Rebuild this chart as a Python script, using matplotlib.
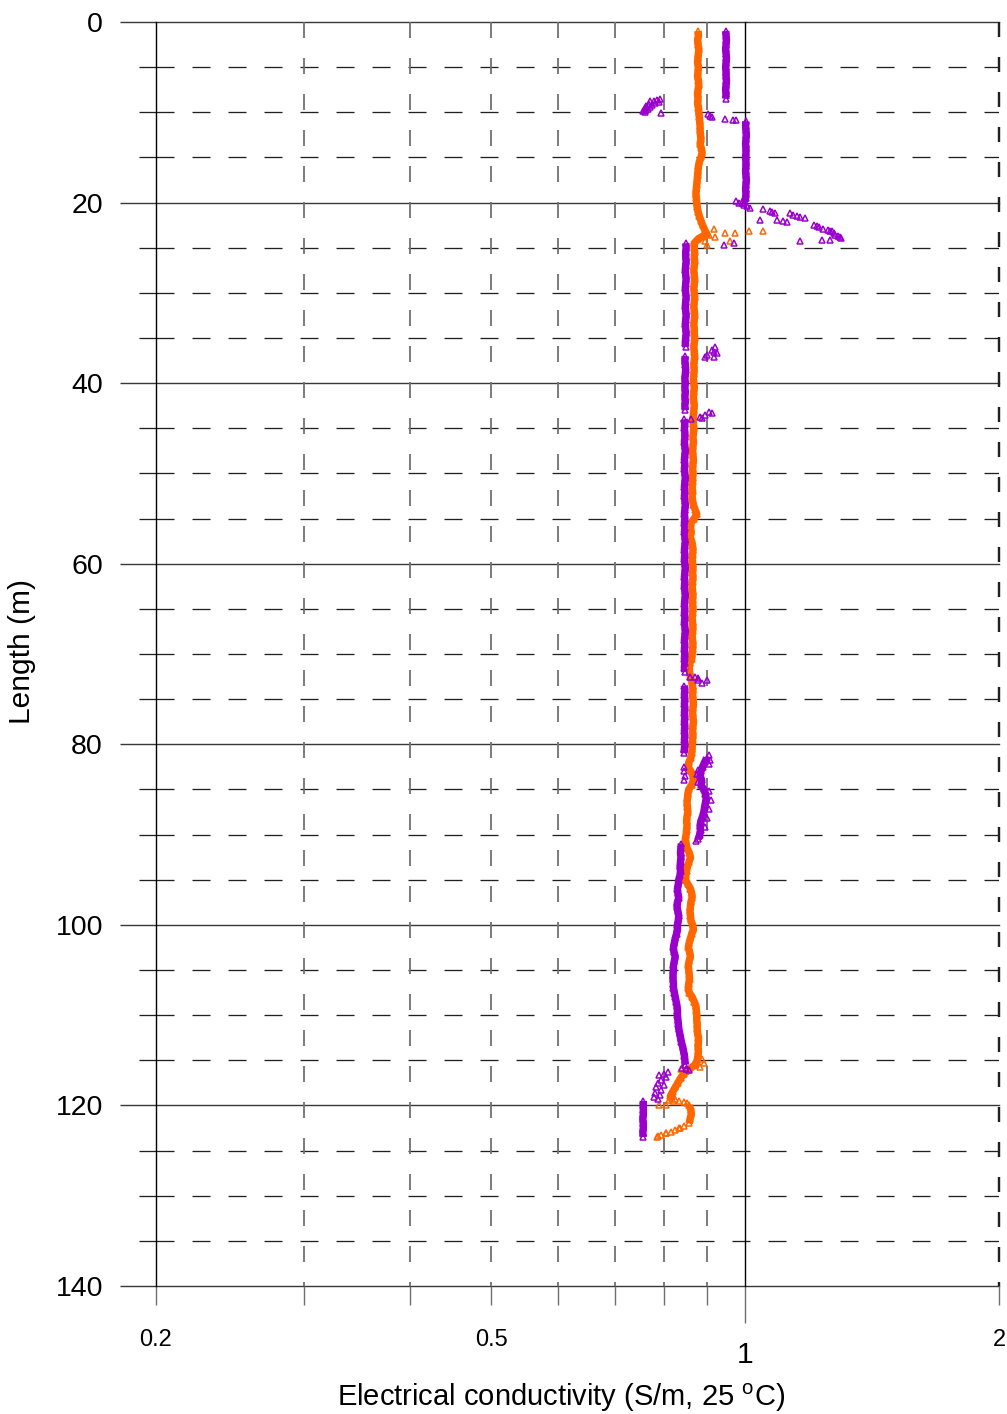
import numpy as np
import matplotlib
matplotlib.use("Agg")
import matplotlib.pyplot as plt
from matplotlib.ticker import FixedLocator, MultipleLocator, NullFormatter

plt.rcParams["font.family"] = ["Liberation Sans", "DejaVu Sans"]
plt.rcParams["mathtext.fontset"] = "custom"
plt.rcParams["mathtext.rm"] = "Liberation Sans"
plt.rcParams["lines.scale_dashes"] = False

nan = float("nan")

# logger reads every 0.5 m along the hole
depth_m = np.arange(1.0, 123.75, 0.5)

# run 2 (orange), S/m at 25 C
orange_ec = [
    0.879, 0.880, 0.878, 0.879, 0.881, 0.880, 0.879, 0.878, 0.880, 0.879,  # 1.0-5.5
    0.878, 0.880, 0.881, 0.879, 0.878, 0.879, 0.878, 0.880, 0.881, 0.882,  # 6.0-10.5
    0.883, 0.884, 0.884, 0.885, 0.886, 0.884, 0.887, 0.889, 0.886, 0.882,  # 11.0-15.5
    0.880, 0.879, 0.878, 0.877, 0.876, 0.875, 0.874, 0.875, 0.876, 0.877,  # 16.0-20.5
    0.879, 0.882, 0.886, 0.890, 0.895, 0.900, 0.880, 0.870, 0.870, 0.871,  # 21.0-25.5
    0.870, 0.871, 0.870, 0.869, 0.870, 0.871, 0.870, 0.869, 0.870, 0.871,  # 26.0-30.5
    0.870, 0.869, 0.870, 0.871, 0.870, 0.869, 0.870, 0.870, 0.871, 0.870,  # 31.0-35.5
    0.869, 0.870, 0.871, 0.870, 0.869, 0.870, 0.869, 0.868, 0.869, 0.870,  # 36.0-40.5
    0.869, 0.868, 0.869, 0.870, 0.869, 0.868, 0.867, 0.868, 0.869, 0.868,  # 41.0-45.5
    0.867, 0.868, 0.867, 0.866, 0.867, 0.868, 0.867, 0.866, 0.867, 0.866,  # 46.0-50.5
    0.866, 0.865, 0.866, 0.865, 0.866, 0.868, 0.872, 0.876, 0.870, 0.862,  # 51.0-55.5
    0.861, 0.863, 0.860, 0.864, 0.866, 0.867, 0.866, 0.865, 0.866, 0.867,  # 56.0-60.5
    0.866, 0.867, 0.866, 0.865, 0.866, 0.867, 0.866, 0.866, 0.867, 0.866,  # 61.0-65.5
    0.865, 0.866, 0.867, 0.866, 0.865, 0.866, 0.867, 0.866, 0.865, 0.864,  # 66.0-70.5
    0.860, 0.858, 0.859, 0.861, 0.864, 0.866, 0.867, 0.866, 0.867, 0.868,  # 71.0-75.5
    0.867, 0.866, 0.867, 0.868, 0.867, 0.866, 0.867, 0.866, 0.865, 0.865,  # 76.0-80.5
    0.864, 0.862, 0.857, 0.856, 0.862, 0.867, 0.868, 0.864, 0.857, 0.855,  # 81.0-85.5
    0.854, 0.853, 0.854, 0.855, 0.853, 0.852, 0.853, 0.852, 0.851, 0.849,  # 86.0-90.5
    0.851, 0.853, 0.858, 0.861, 0.858, 0.854, 0.852, 0.850, 0.849, 0.855,  # 91.0-95.5
    0.861, 0.864, 0.865, 0.862, 0.861, 0.860, 0.861, 0.862, 0.866, 0.868,  # 96.0-100.5
    0.864, 0.861, 0.858, 0.856, 0.859, 0.861, 0.858, 0.856, 0.857, 0.858,  # 101.0-105.5
    0.859, 0.857, 0.856, 0.858, 0.865, 0.870, 0.874, 0.875, 0.876, 0.876,  # 106.0-110.5
    0.877, 0.877, 0.878, 0.880, 0.880, 0.879, 0.880, 0.879, 0.877, 0.872,  # 111.0-115.5
    0.858, 0.845, 0.838, 0.832, 0.826, 0.820, 0.815, 0.820, 0.858, 0.862,  # 116.0-120.5
    0.863, 0.860, 0.858, 0.835, 0.805, 0.785,                              # 121.0-123.5
]

# run 1 (purple); nan where the probe reading is off the main trace
purple_ec = [
    0.948, 0.949, 0.950, 0.949, 0.948, 0.949, 0.950, 0.949, 0.948, 0.949,  # 1.0-5.5
    0.949, 0.950, 0.949, 0.948, 0.949, 0.948, nan, nan, nan, nan,          # 6.0-10.5
    1.002, 1.001, 1.002, 1.003, 1.002, 1.001, 1.002, 1.002, 1.001, 1.002,  # 11.0-15.5
    1.002, 1.001, 1.002, 1.003, 1.002, 1.001, 1.002, 1.001, 0.996, nan,    # 16.0-20.5
    nan, nan, nan, nan, nan, nan, nan, 0.850, 0.851, 0.850,                # 21.0-25.5
    0.850, 0.851, 0.850, 0.849, 0.850, 0.851, 0.850, 0.849, 0.850, 0.851,  # 26.0-30.5
    0.850, 0.849, 0.850, 0.851, 0.850, 0.849, 0.850, 0.851, 0.850, 0.849,  # 31.0-35.5
    0.850, nan, 0.849, 0.848, 0.849, 0.850, 0.849, 0.848, 0.849, 0.848,    # 36.0-40.5
    0.849, 0.848, 0.849, 0.848, 0.849, nan, 0.846, 0.848, 0.847, 0.848,    # 41.0-45.5
    0.848, 0.847, 0.848, 0.849, 0.848, 0.847, 0.848, 0.847, 0.848, 0.849,  # 46.0-50.5
    0.848, 0.847, 0.848, 0.847, 0.848, 0.849, 0.848, 0.847, 0.848, 0.847,  # 51.0-55.5
    0.848, 0.847, 0.848, 0.849, 0.848, 0.847, 0.848, 0.847, 0.848, 0.849,  # 56.0-60.5
    0.848, 0.847, 0.848, 0.847, 0.848, 0.849, 0.848, 0.847, 0.848, 0.847,  # 61.0-65.5
    0.848, 0.847, 0.848, 0.849, 0.848, 0.847, 0.848, 0.847, 0.848, 0.847,  # 66.0-70.5
    0.848, 0.847, 0.848, nan, nan, 0.847, 0.848, 0.847, 0.848, 0.847,      # 71.0-75.5
    0.848, 0.847, 0.848, 0.847, 0.848, 0.847, 0.848, 0.847, 0.848, 0.847,  # 76.0-80.5
    0.846, 0.900, 0.895, 0.890, 0.886, 0.884, 0.888, 0.886, 0.893, 0.897,  # 81.0-85.5
    0.899, 0.897, 0.895, 0.893, 0.890, 0.886, 0.884, 0.885, 0.883, 0.880,  # 86.0-90.5
    0.840, 0.839, 0.838, 0.839, 0.838, 0.837, 0.838, 0.837, 0.834, 0.833,  # 91.0-95.5
    0.831, 0.832, 0.834, 0.831, 0.830, 0.832, 0.834, 0.833, 0.831, 0.831,  # 96.0-100.5
    0.829, 0.826, 0.824, 0.822, 0.823, 0.826, 0.824, 0.822, 0.822, 0.821,  # 101.0-105.5
    0.821, 0.822, 0.822, 0.824, 0.826, 0.828, 0.830, 0.831, 0.831, 0.832,  # 106.0-110.5
    0.833, 0.834, 0.836, 0.838, 0.840, 0.843, 0.845, 0.847, 0.848, 0.849,  # 111.0-115.5
    nan, nan, nan, nan, nan, nan, nan, 0.757, 0.757, 0.757,                # 116.0-120.5
    0.757, 0.756, 0.757, 0.757, 0.756, 0.757,                              # 121.0-123.5
]

# scattered readings (depth m, S/m) that sit away from the traces
orange_loose = [
    (22.9, 0.917), (23.1, 1.051), (23.2, 1.009), (23.4, 0.947), (23.4, 0.973),
    (23.6, 0.905), (23.8, 0.921), (24.3, 0.960), (24.3, 0.897), (24.7, 0.901),
    (114.9, 0.888), (115.3, 0.893), (115.7, 0.884), (116.0, 0.838), (116.2, 0.850),
    (119.3, 0.826), (119.4, 0.812), (119.5, 0.835), (119.6, 0.845), (119.7, 0.852),
    (119.9, 0.790), (119.9, 0.805),
    (122.3, 0.845), (122.5, 0.836), (122.7, 0.826), (122.9, 0.816), (123.1, 0.805),
    (123.3, 0.795), (123.4, 0.788),
]

purple_loose = [
    (8.5, 0.792), (8.6, 0.785), (8.7, 0.779), (8.8, 0.772), (8.9, 0.790), (9.0, 0.781),
    (9.1, 0.768), (9.2, 0.775), (9.3, 0.763), (9.4, 0.770), (9.5, 0.760), (9.6, 0.766),
    (9.7, 0.758), (9.8, 0.762), (9.9, 0.757), (10.0, 0.760), (10.1, 0.795),
    (10.2, 0.903), (10.4, 0.908), (10.5, 0.912), (10.7, 0.947), (10.8, 0.968), (10.9, 0.976),
    (19.8, 0.975), (20.0, 0.982), (20.1, 0.990), (20.3, 0.996), (20.4, 1.005),
    (20.6, 1.014), (20.7, 1.051), (20.9, 1.070), (21.0, 1.075), (21.1, 1.085), (21.2, 1.131),
    (21.4, 1.140), (21.5, 1.152), (21.6, 1.162), (21.7, 1.178), (21.9, 1.042), (21.9, 1.090),
    (22.0, 1.110), (22.1, 1.120), (22.5, 1.205), (22.6, 1.215), (22.7, 1.222), (22.9, 1.238),
    (23.0, 1.255), (23.1, 1.260), (23.2, 1.267), (23.4, 1.275), (23.6, 1.278), (23.7, 1.290),
    (23.8, 1.296), (23.9, 1.300), (24.1, 1.261), (24.2, 1.233), (24.3, 1.162), (24.5, 0.969),
    (24.7, 0.943),
    (36.0, 0.921), (36.3, 0.913), (36.5, 0.918), (36.7, 0.926), (36.9, 0.901), (37.1, 0.897),
    (37.1, 0.917),
    (43.2, 0.905), (43.3, 0.913), (43.5, 0.897), (43.7, 0.884), (43.9, 0.889), (44.0, 0.862),
    (72.5, 0.872), (72.6, 0.860), (72.7, 0.878), (72.9, 0.880), (72.9, 0.901), (73.2, 0.889),
    (81.2, 0.905), (81.7, 0.908), (82.2, 0.905), (82.5, 0.845), (82.8, 0.878), (83.0, 0.847),
    (83.3, 0.876), (83.5, 0.848), (84.0, 0.846), (84.2, 0.878), (85.2, 0.905), (86.2, 0.910),
    (87.2, 0.905), (88.2, 0.900), (89.2, 0.895), (90.2, 0.878), (90.7, 0.875),
    (115.9, 0.842), (116.0, 0.850), (116.1, 0.858), (116.3, 0.810), (116.5, 0.800),
    (116.6, 0.790), (116.9, 0.805), (117.2, 0.795), (117.5, 0.787), (117.7, 0.800),
    (118.0, 0.783), (118.3, 0.795), (118.6, 0.782), (118.8, 0.792), (119.1, 0.780),
    (119.3, 0.788),
]

ORANGE = "#FF6600"
PURPLE = "#9900CC"
PX = 72 / 100  # points per pixel at 100 dpi


def with_breaks(depth, ec, max_ratio=1.025):
    # split the trace wherever consecutive readings jump
    depth = np.asarray(depth, float)
    ec = np.asarray(ec, float)
    ratio = ec[1:] / ec[:-1]
    jump = np.where((ratio > max_ratio) | (ratio < 1 / max_ratio))[0] + 1
    return np.insert(depth, jump, np.nan), np.insert(ec, jump, np.nan)


def draw_run(ax, ec, loose, color):
    d, e = with_breaks(depth_m, ec)
    ax.plot(e, d, color=color, lw=7.5 * PX, solid_capstyle="butt", zorder=3)
    marker = dict(ls="none", marker="^", ms=6.5 * PX, mfc="none", mec=color,
                  mew=1.5 * PX, zorder=4)
    ax.plot(ec, depth_m, **marker)
    ld, le = zip(*loose)
    ax.plot(le, ld, **marker)


fig = plt.figure(figsize=(10.07, 14.14), dpi=100)
ax = fig.add_axes([156 / 1007, 1 - 1286 / 1414, (999 - 156) / 1007, 1264 / 1414])
ax.set_xscale("log")
ax.set_xlim(0.2, 2)
ax.set_ylim(140, 0)
for s in ax.spines.values():
    s.set_visible(False)

# horizontal grid
for y in range(0, 141, 20):
    ax.axhline(y, color="#383838", lw=1.4 * PX, clip_on=False, zorder=1)
for y in range(5, 140, 5):
    if y % 20:
        ax.axhline(y, color="#202020", lw=1.3 * PX, dashes=(18 * PX, 18 * PX), zorder=1)

# vertical grid
for x in [0.2, 1]:
    ax.plot([x, x], [0, 140], color="black", lw=1.4 * PX, clip_on=False, zorder=2)
for x in [0.3, 0.4, 0.5, 0.6, 0.7, 0.8, 0.9]:
    ax.plot([x, x], [0, 140], color="#707070", lw=1.8 * PX,
            dashes=(16 * PX, 20 * PX), zorder=1)
ax.plot([2, 2], [0, 140], color="#202020", lw=2.4 * PX, dashes=(15 * PX, 20 * PX),
        clip_on=False, zorder=2)

# y ticks
ax.yaxis.set_major_locator(FixedLocator(range(0, 141, 20)))
ax.yaxis.set_minor_locator(MultipleLocator(5))
ax.tick_params(axis="y", which="major", direction="out", length=36 * PX, width=1.4 * PX,
               color="#383838", pad=17 * PX, labelsize=20.5)
ax.tick_params(axis="y", which="minor", direction="out", length=17 * PX, width=1.3 * PX,
               color="#202020")

# x ticks
ax.xaxis.set_major_locator(FixedLocator([0.2, 0.5, 1, 2]))
ax.xaxis.set_minor_locator(FixedLocator([0.3, 0.4, 0.6, 0.7, 0.8, 0.9]))
ax.set_xticklabels(["0.2", "0.5", "1", "2"])
ax.xaxis.set_minor_formatter(NullFormatter())
ax.tick_params(axis="x", which="both", direction="out", length=19 * PX, width=1.4 * PX,
               color="#707070", pad=23.5 * PX, labelsize=17)
ticks = ax.xaxis.get_major_ticks()
ticks[0].tick1line.set_color("black")
ticks[3].tick1line.set_color("#202020")
one = ticks[2]
one.set_pad(36 * PX)
one.label1.set_fontsize(21.7)
one.tick1line.set_color("black")
one.tick1line.set_markersize(37 * PX)

draw_run(ax, orange_ec, orange_loose, ORANGE)
draw_run(ax, purple_ec, purple_loose, PURPLE)

fig.text(22 / 1007, 1 - 652 / 1414, "Length (m)", rotation=90, ha="center", va="center",
         fontsize=21.5)
fig.text(561.5 / 1007, 1 - 1406.5 / 1414,
         "Electrical conductivity (S/m, 25 $^{\\mathrm{o}}$C)",
         ha="center", va="baseline", fontsize=21)

fig.savefig("out.png", dpi=100)
